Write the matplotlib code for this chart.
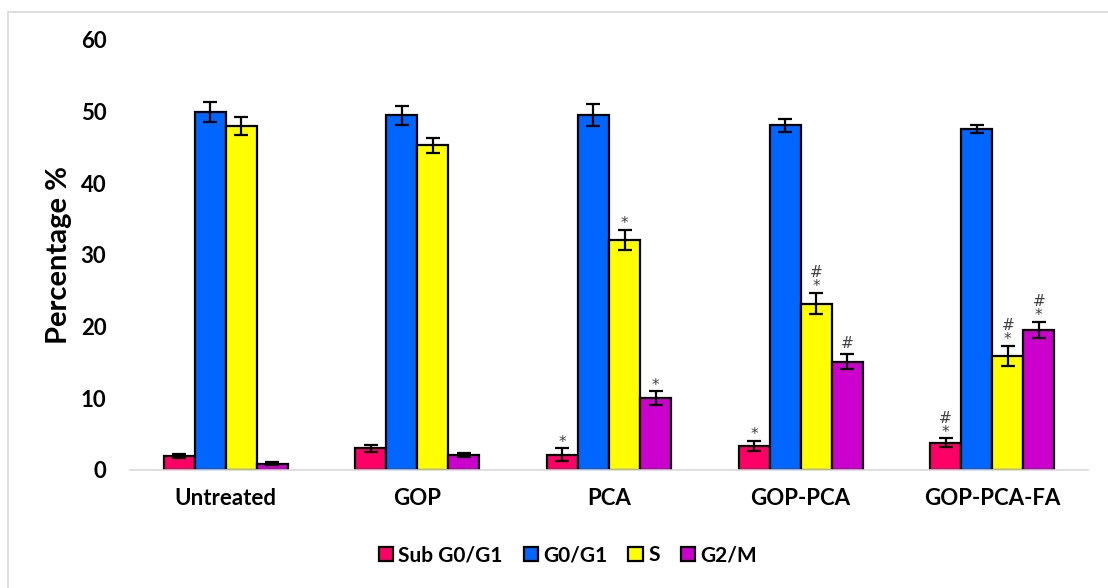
import numpy as np
import matplotlib
matplotlib.use("Agg")
import matplotlib.pyplot as plt
from matplotlib.lines import Line2D

plt.rcParams["font.family"] = ["Lato", "DejaVu Sans"]

groups = ["Untreated", "GOP", "PCA", "GOP-PCA", "GOP-PCA-FA"]
phases = ["Sub G0/G1", "G0/G1", "S", "G2/M"]
colors = ["#FF0066", "#0066FF", "#FFFF00", "#CC00CC"]

sub_g0g1 = [2.0, 3.0, 2.1, 3.35, 3.8]
g0g1 = [50.0, 49.5, 49.5, 48.1, 47.6]
s_phase = [48.0, 45.3, 32.1, 23.2, 15.95]
g2m = [0.9, 2.1, 10.0, 15.1, 19.5]

sub_g0g1_err = [0.3, 0.5, 0.9, 0.75, 0.6]
g0g1_err = [1.4, 1.3, 1.5, 0.9, 0.6]
s_phase_err = [1.25, 1.0, 1.45, 1.5, 1.4]
g2m_err = [0.2, 0.3, 1.0, 1.05, 1.15]

# significance marks per (phase, group): "*" vs untreated, "#" vs PCA
sub_marks = ["", "", "*", "*", "#*"]
g0g1_marks = ["", "", "", "", ""]
s_marks = ["", "", "*", "#*", "#*"]
g2m_marks = ["", "", "*", "#", "#*"]

values = [sub_g0g1, g0g1, s_phase, g2m]
errors = [sub_g0g1_err, g0g1_err, s_phase_err, g2m_err]
marks = [sub_marks, g0g1_marks, s_marks, g2m_marks]

fig = plt.figure(figsize=(11.08, 5.88), dpi=100)
ax = fig.add_axes([0.1173, 0.2007, 0.8647, 0.7313])

x = np.arange(len(groups))
width = 0.162
mark_font = dict(ha="center", va="bottom", fontsize=11, color="#404040",
                 family="DejaVu Sans", textcoords="offset points")
for i, (vals, errs, mk) in enumerate(zip(values, errors, marks)):
    pos = x + (i - 1.5) * width
    ax.bar(pos, vals, width, color=colors[i], edgecolor="black", linewidth=1.6,
           label=phases[i], zorder=2)
    ax.errorbar(pos, vals, yerr=errs, fmt="none", ecolor="black", elinewidth=1.6,
                capsize=5, capthick=1.6, zorder=3)
    for p, v, e, m in zip(pos, vals, errs, mk):
        top = v + e
        if "*" in m:
            ax.annotate("*", (p, top), xytext=(0, -1), **mark_font)
        if "#" in m:
            off = 9 if "*" in m else 2
            ax.annotate("#", (p, top), xytext=(0, off), **mark_font)

ax.set_ylim(0, 60)
ax.set_xlim(-0.5, len(groups) - 0.5)
ax.set_yticks(range(0, 61, 10))
ax.set_xticks(x)
ax.set_xticklabels(groups)
ax.tick_params(axis="both", length=0, labelsize=16)
ax.tick_params(axis="y", pad=17)
ax.tick_params(axis="x", pad=13)
for lab in ax.get_xticklabels() + ax.get_yticklabels():
    lab.set_fontweight("bold")
for side in ["top", "right", "left"]:
    ax.spines[side].set_visible(False)
ax.spines["bottom"].set_color("#D9D9D9")
ax.spines["bottom"].set_linewidth(1.2)

ax.set_ylabel("Percentage %", fontsize=21, fontweight="bold", labelpad=6)

ax.legend(loc="center", bbox_to_anchor=(0.457, -0.198), ncol=4, frameon=False,
          prop={"size": 15, "weight": "bold"}, handlelength=0.7, handleheight=0.7,
          handletextpad=0.25, columnspacing=1.0)

# light grey outer frame
fig.add_artist(Line2D([8 / 1108, 8 / 1108], [0, 1 - 12 / 588], color="#D9D9D9", lw=1.2))
fig.add_artist(Line2D([8 / 1108, 1], [1 - 12 / 588, 1 - 12 / 588], color="#D9D9D9", lw=1.2))

fig.savefig("out.png", dpi=100)
